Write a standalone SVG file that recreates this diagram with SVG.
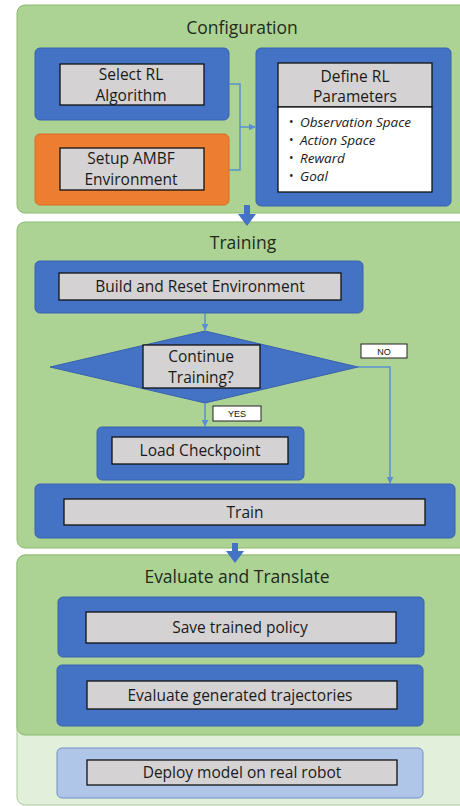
<svg xmlns="http://www.w3.org/2000/svg" width="460" height="806" viewBox="0 0 460 806">
  <defs>
    <style>
      .panel { fill: #add394; stroke: #8dbb70; stroke-width: 1; }
      .panel-lite { fill: #e2efda; stroke: #a9c99a; stroke-width: 1; }
      .blue { fill: #4472c4; stroke: #3a63ad; stroke-width: 1; }
      .orange { fill: #ed7d31; stroke: #d86c24; stroke-width: 1; }
      .lblue { fill: #b0c6e8; stroke: #6f8fc4; stroke-width: 1; }
      .grey { fill: #d4d2d2; stroke: #111; stroke-width: 1.3; }
      .white { fill: #fff; stroke: #111; stroke-width: 1.3; }
      .tag { fill: #fff; stroke: #222; stroke-width: 1; }
      .title { font-family: "Open Sans", "Liberation Sans", sans-serif; font-size: 17.5px; fill: #1d2b1d; text-anchor: middle; }
      .lbl { font-family: "Open Sans", "Liberation Sans", sans-serif; font-size: 15.5px; fill: #1a1a1a; text-anchor: middle; }
      .bul { font-family: "Open Sans", "Liberation Sans", sans-serif; font-size: 13.5px; font-style: italic; fill: #1a1a1a; }
      .dot { font-family: "Open Sans", "Liberation Sans", sans-serif; font-size: 12px; fill: #1a1a1a; }
      .small { font-family: "Liberation Sans", sans-serif; font-size: 9px; fill: #111; text-anchor: middle; }
      .wire { fill: none; stroke: #5b8fd0; stroke-width: 1.5; }
      .big { fill: #4472c4; }
    </style>
    <marker id="ah" viewBox="0 0 10 10" refX="9" refY="5" markerWidth="7" markerHeight="7" markerUnits="userSpaceOnUse" orient="auto">
      <path d="M0,0 L10,5 L0,10 z" fill="#5b8fd0"/>
    </marker>
  </defs>

  <!-- section backgrounds -->
  <g id="sec-config">
    <rect class="panel" x="17" y="5" width="460" height="208" rx="8"/>
    <text class="title" x="242" y="34">Configuration</text>
  </g>
  <g id="sec-training">
    <rect class="panel" x="17" y="222" width="460" height="326" rx="8"/>
    <text class="title" x="243" y="249">Training</text>
  </g>
  <g id="sec-deploy">
    <rect class="panel-lite" x="17" y="555" width="460" height="250" rx="8"/>
  </g>
  <g id="sec-evaluate">
    <rect class="panel" x="17" y="555" width="460" height="180" rx="8"/>
    <text class="title" x="237" y="583">Evaluate and Translate</text>
  </g>

  <!-- configuration steps -->
  <g id="select-rl">
    <rect class="blue" x="35" y="48" width="194" height="72" rx="5"/>
    <rect class="grey" x="60" y="64" width="144" height="41"/>
    <text class="lbl" x="131" y="80">Select RL</text>
    <text class="lbl" x="131" y="101">Algorithm</text>
  </g>
  <g id="setup-ambf">
    <rect class="orange" x="35" y="134" width="194" height="71" rx="5"/>
    <rect class="grey" x="60" y="148" width="144" height="42"/>
    <text class="lbl" x="131" y="164">Setup AMBF</text>
    <text class="lbl" x="131" y="185">Environment</text>
  </g>
  <g id="define-rl">
    <rect class="blue" x="256" y="48" width="195" height="158" rx="5"/>
    <rect class="grey" x="278" y="63" width="154" height="44"/>
    <rect class="white" x="278" y="107" width="154" height="85"/>
    <text class="lbl" x="355" y="82">Define RL</text>
    <text class="lbl" x="355" y="102">Parameters</text>
    <g class="dot">
      <text x="289" y="126">•</text>
      <text x="289" y="144">•</text>
      <text x="289" y="162">•</text>
      <text x="289" y="180">•</text>
    </g>
    <g class="bul">
      <text x="300" y="127">Observation Space</text>
      <text x="300" y="145">Action Space</text>
      <text x="300" y="163">Reward</text>
      <text x="300" y="181">Goal</text>
    </g>
  </g>

  <!-- training steps -->
  <g id="build-reset">
    <rect class="blue" x="35" y="261" width="328" height="52" rx="5"/>
    <rect class="grey" x="59" y="273" width="282" height="27"/>
    <text class="lbl" x="200" y="292">Build and Reset Environment</text>
  </g>
  <g id="continue">
    <polygon class="blue" points="205,331 358,367 205,403 50,367"/>
    <rect class="grey" x="143" y="345" width="117" height="43"/>
    <text class="lbl" x="201" y="362">Continue</text>
    <text class="lbl" x="201" y="383">Training?</text>
  </g>
  <g id="load-ckpt">
    <rect class="blue" x="97" y="427" width="207" height="53" rx="5"/>
    <rect class="grey" x="112" y="437" width="176" height="27"/>
    <text class="lbl" x="200" y="456">Load Checkpoint</text>
  </g>
  <g id="train">
    <rect class="blue" x="35" y="484" width="420" height="54" rx="5"/>
    <rect class="grey" x="64" y="499" width="361" height="26"/>
    <text class="lbl" x="245" y="518">Train</text>
  </g>

  <!-- evaluation and deployment steps -->
  <g id="save-policy">
    <rect class="blue" x="58" y="597" width="366" height="60" rx="5"/>
    <rect class="grey" x="86" y="612" width="310" height="31"/>
    <text class="lbl" x="240" y="633">Save trained policy</text>
  </g>
  <g id="eval-traj">
    <rect class="blue" x="57" y="665" width="366" height="61" rx="5"/>
    <rect class="grey" x="87" y="681" width="310" height="28"/>
    <text class="lbl" x="240" y="701">Evaluate generated trajectories</text>
  </g>
  <g id="deploy">
    <rect class="lblue" x="57" y="748" width="366" height="50" rx="5"/>
    <rect class="grey" x="87" y="760" width="310" height="25"/>
    <text class="lbl" x="242" y="778">Deploy model on real robot</text>
  </g>

  <!-- connectors -->
  <g id="connectors">
    <path class="wire" d="M229,84 H240 V170 H229"/>
    <path class="wire" d="M240,127 H255" marker-end="url(#ah)"/>
    <path class="wire" d="M205,313 V330" marker-end="url(#ah)"/>
    <path class="wire" d="M205,403 V426" marker-end="url(#ah)"/>
    <path class="wire" d="M358,367 H390 V483" marker-end="url(#ah)"/>
    <path class="big" d="M244,205 H250 V214 H256 L247,226 L238,214 H244 Z"/>
    <path class="big" d="M232,543 H238 V551 H244 L235,563 L226,551 H232 Z"/>
  </g>

  <!-- branch labels -->
  <g id="label-no">
    <rect class="tag" x="361" y="344" width="46" height="14"/>
    <text class="small" x="384" y="355">NO</text>
  </g>
  <g id="label-yes">
    <rect class="tag" x="213" y="406" width="48" height="15"/>
    <text class="small" x="237" y="417">YES</text>
  </g>
</svg>
